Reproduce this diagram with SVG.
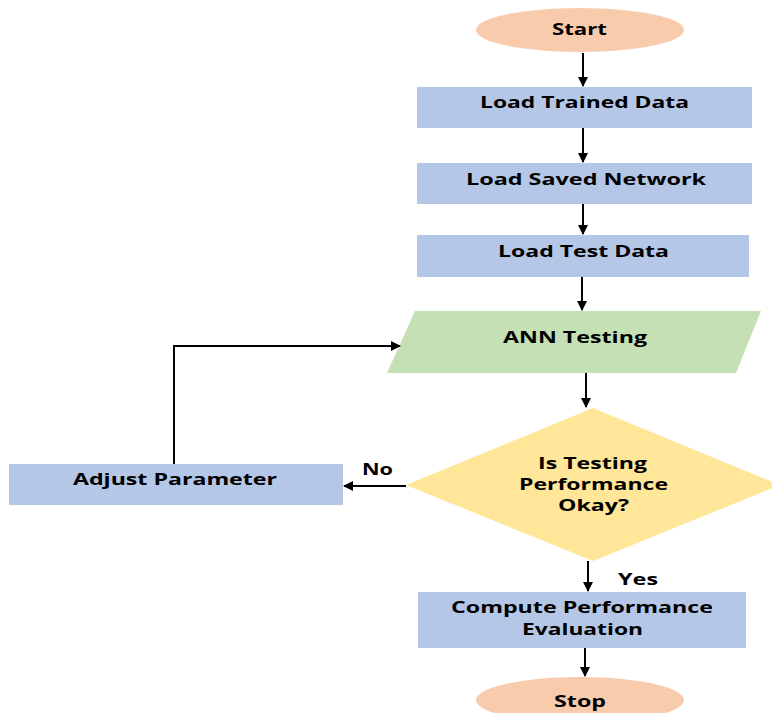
<svg xmlns="http://www.w3.org/2000/svg" width="772" height="713" viewBox="0 0 772 713">
  <style>
    .term { fill: #F8CBAD; }
    .proc { fill: #B4C7E7; }
    .io { fill: #C5E0B4; }
    .dec { fill: #FFE699; }
    text { font-family: "Open Sans", "DejaVu Sans", sans-serif; font-weight: bold; font-size: 16px; fill: #000; }
    .edge { stroke: #000; stroke-width: 2; fill: none; }
  </style>
  <defs>
    <marker id="arrow" viewBox="0 0 10 10" refX="9" refY="5" markerWidth="5" markerHeight="5" orient="auto" markerUnits="strokeWidth">
      <path d="M0,0 L10,5 L0,10 z" fill="#000"/>
    </marker>
  </defs>
  <rect width="772" height="713" fill="#fff"/>

  <g id="start">
    <ellipse class="term" cx="580" cy="30" rx="104" ry="22"/>
    <text x="552" y="35" textLength="55" lengthAdjust="spacingAndGlyphs">Start</text>
  </g>
  <g id="load-trained">
    <rect class="proc" x="417" y="87" width="335" height="41"/>
    <text x="480" y="108" textLength="209" lengthAdjust="spacingAndGlyphs">Load Trained Data</text>
  </g>
  <g id="load-network">
    <rect class="proc" x="417" y="163" width="335" height="41"/>
    <text x="466" y="185" textLength="240" lengthAdjust="spacingAndGlyphs">Load Saved Network</text>
  </g>
  <g id="load-test">
    <rect class="proc" x="417" y="235" width="332" height="42"/>
    <text x="498" y="257" textLength="171" lengthAdjust="spacingAndGlyphs">Load Test Data</text>
  </g>
  <g id="ann-testing">
    <polygon class="io" points="415,311 761,311 736,373 387,373"/>
    <text x="503" y="343" textLength="144" lengthAdjust="spacingAndGlyphs">ANN Testing</text>
  </g>
  <g id="decision">
    <polygon class="dec" points="593,408 780,485 593,561 406,485"/>
    <text x="538" y="469" textLength="109" lengthAdjust="spacingAndGlyphs">Is Testing</text>
    <text x="519" y="490" textLength="149" lengthAdjust="spacingAndGlyphs">Performance</text>
    <text x="558" y="511" textLength="71" lengthAdjust="spacingAndGlyphs">Okay?</text>
  </g>
  <g id="adjust">
    <rect class="proc" x="9" y="464" width="334" height="41"/>
    <text x="73" y="485" textLength="204" lengthAdjust="spacingAndGlyphs">Adjust Parameter</text>
  </g>
  <g id="compute">
    <rect class="proc" x="418" y="592" width="328" height="56"/>
    <text x="451" y="613" textLength="262" lengthAdjust="spacingAndGlyphs">Compute Performance</text>
    <text x="522" y="635" textLength="121" lengthAdjust="spacingAndGlyphs">Evaluation</text>
  </g>
  <g id="stop">
    <ellipse class="term" cx="580" cy="700" rx="104" ry="23"/>
    <text x="554" y="707" textLength="52" lengthAdjust="spacingAndGlyphs">Stop</text>
  </g>

  <g id="connectors">
    <line class="edge" x1="583" y1="53" x2="583" y2="86" marker-end="url(#arrow)"/>
    <line class="edge" x1="583" y1="128" x2="583" y2="162" marker-end="url(#arrow)"/>
    <line class="edge" x1="583" y1="204" x2="583" y2="234" marker-end="url(#arrow)"/>
    <line class="edge" x1="582" y1="277" x2="582" y2="310" marker-end="url(#arrow)"/>
    <line class="edge" x1="586" y1="373" x2="586" y2="407" marker-end="url(#arrow)"/>
    <line class="edge" x1="406" y1="486" x2="344" y2="486" marker-end="url(#arrow)"/>
    <polyline class="edge" points="174,464 174,346 400,346" marker-end="url(#arrow)"/>
    <line class="edge" x1="588" y1="561" x2="588" y2="591" marker-end="url(#arrow)"/>
    <line class="edge" x1="585" y1="648" x2="585" y2="676" marker-end="url(#arrow)"/>
    <text x="362" y="475" textLength="31" lengthAdjust="spacingAndGlyphs">No</text>
    <text x="618" y="585" textLength="40" lengthAdjust="spacingAndGlyphs">Yes</text>
  </g>
</svg>
